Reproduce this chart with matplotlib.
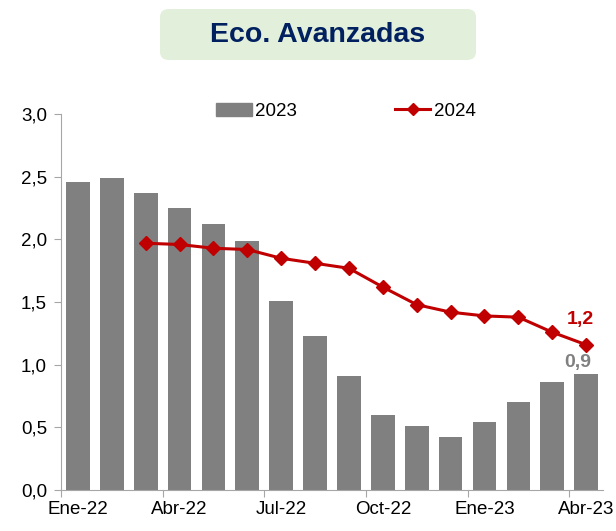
import matplotlib.pyplot as plt
import numpy as np
from matplotlib.patches import FancyBboxPatch
from matplotlib.lines import Line2D
from matplotlib.patches import Patch

plt.rcParams['font.family'] = ['Liberation Sans', 'DejaVu Sans']

months = ["Ene-22", "Feb-22", "Mar-22", "Abr-22", "May-22", "Jun-22", "Jul-22", "Ago-22",
          "Sep-22", "Oct-22", "Nov-22", "Dic-22", "Ene-23", "Feb-23", "Mar-23", "Abr-23"]
vals_2023 = [2.46, 2.49, 2.37, 2.25, 2.12, 1.99, 1.51, 1.23, 0.91, 0.60, 0.51, 0.42, 0.54, 0.70, 0.86, 0.93]
# 2024 series starts at Mar
vals_2024 = [np.nan, np.nan, 1.97, 1.96, 1.93, 1.92, 1.85, 1.81, 1.77, 1.62, 1.48, 1.42, 1.39, 1.38, 1.26, 1.16]
tick_months = ["Ene-22", "Abr-22", "Jul-22", "Oct-22", "Ene-23", "Abr-23"]

bar_color = "#808080"
line_color = "#c00000"
axis_color = "#a6a6a6"

fig = plt.figure(figsize=(6.16, 5.31), dpi=100)
ax = fig.add_axes([0.099, 0.077, 0.880, 0.708])

x = np.arange(len(months))
ax.bar(x, vals_2023, width=0.7, color=bar_color, zorder=2)
ax.plot(x, vals_2024, color=line_color, lw=2.2, marker="D", ms=7, zorder=3)

ax.set_xlim(-0.5, len(months) - 0.5)
ax.set_ylim(0, 3.0)
yt = np.arange(0, 3.01, 0.5)
ax.set_yticks(yt)
ax.set_yticklabels([f"{v:.1f}".replace(".", ",") for v in yt], fontsize=13.5)

# ticks at category boundaries, labels centered on category
tick_idx = [months.index(m) for m in tick_months]
ax.set_xticks([i - 0.5 for i in tick_idx])
ax.set_xticklabels([])
ax.set_xticks(tick_idx, minor=True)
ax.set_xticklabels(tick_months, minor=True, fontsize=13.5)
ax.tick_params(axis="x", which="minor", length=0, pad=8)
ax.tick_params(axis="x", which="major", length=5, color=axis_color, direction="out")
ax.tick_params(axis="y", length=5, color=axis_color, direction="out", pad=5)

for s in ["top", "right"]:
    ax.spines[s].set_visible(False)
for s in ["left", "bottom"]:
    ax.spines[s].set_color(axis_color)

# end labels
ax.annotate("1,2", (x[-1], vals_2024[-1]), xytext=(-4, 12), textcoords="offset points",
            ha="center", va="bottom", color=line_color, fontsize=14, fontweight="bold")
ax.annotate("0,9", (x[-1], vals_2023[-1]), xytext=(-6, 2), textcoords="offset points",
            ha="center", va="bottom", color=bar_color, fontsize=14, fontweight="bold")

handles = [Patch(color=bar_color, label="2023"),
           Line2D([0], [0], color=line_color, lw=2.2, marker="D", ms=6, label="2024")]
ax.legend(handles=handles, loc="upper center", bbox_to_anchor=(0.526, 1.075), ncol=2,
          frameon=False, fontsize=13.5, columnspacing=5.2, handlelength=1.9, handletextpad=0.2)

# title box
box = FancyBboxPatch((160 / 616, 1 - 60 / 531), 316 / 616, 51 / 531,
                     boxstyle="round,pad=0,rounding_size=0.015", transform=fig.transFigure,
                     facecolor="#e2efda", edgecolor="none")
fig.patches.append(box)
fig.text(318 / 616, 1 - 35 / 531, "Eco. Avanzadas", ha="center", va="center",
         fontsize=20.5, fontweight="bold", color="#002060")

fig.savefig("out.png", dpi=100)
